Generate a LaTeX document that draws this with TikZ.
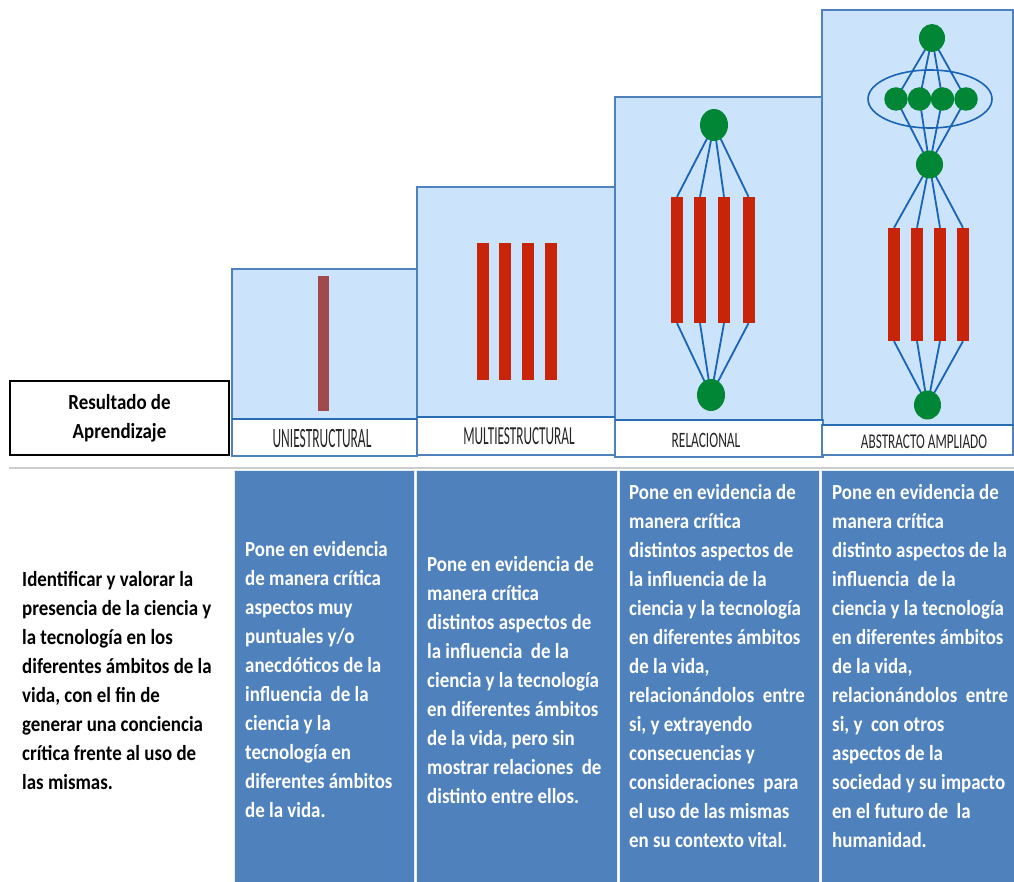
\documentclass[tikz,border=0pt]{standalone}
\usepackage{fontspec}
\setmainfont{Carlito}
\newfontfamily\bodyfont[FakeStretch=0.88]{Carlito}
\newfontfamily\labUni[FakeStretch=0.48]{Carlito}
\newfontfamily\labMulti[FakeStretch=0.51]{Carlito}
\newfontfamily\labRel[FakeStretch=0.61]{Carlito}
\newfontfamily\labAbs[FakeStretch=0.63]{Carlito}
\usetikzlibrary{shapes.geometric}
\definecolor{hdrfill}{RGB}{204,228,251}
\definecolor{hdrline}{RGB}{79,129,189}
\definecolor{sepline}{RGB}{40,108,180}
\definecolor{cellfill}{RGB}{79,129,189}
\definecolor{barred}{RGB}{200,36,10}
\definecolor{barmaroon}{RGB}{160,74,78}
\definecolor{nodegreen}{RGB}{0,134,52}
\definecolor{linkblue}{RGB}{25,100,182}
\pgfdeclarelayer{bg}\pgfdeclarelayer{links}\pgfsetlayers{bg,links,main}
\begin{document}
\begin{tikzpicture}[x=1pt,y=-1pt,
  panel/.style={fill=hdrfill, draw=hdrline, line width=1.3pt},
  labelbox/.style={fill=white, draw=hdrline, line width=1.3pt},
  sepblue/.style={draw=sepline, line width=2.2pt},
  labeltext/.style={inner sep=0pt, text=black!85},
  redbar/.style={rectangle, fill=barred, inner sep=0pt, minimum width=12pt},
  dot/.style={ellipse, fill=nodegreen, inner sep=0pt},
  link/.style={draw=linkblue, line width=1.8pt},
  cell/.style={fill=cellfill, draw=white!85!cellfill, line width=1pt},
  bodytext/.style={anchor=north west, align=left, inner sep=0pt, text=white, font=\bodyfont\fontsize{21.5}{29}\selectfont\bfseries},
]
\useasboundingbox (0,0) rectangle (1014,882);

% ---------- header panels ----------
\begin{pgfonlayer}{bg}
\fill[white] (0,0) rectangle (1014,882);
\draw[panel] (232,269) rectangle (417,419);
\draw[panel] (417,187) rectangle (615,417);
\draw[panel] (615,97) rectangle (823,420);
\draw[panel] (822,10) rectangle (1013,425);
\draw[labelbox] (232,419) rectangle (417,456);
\draw[labelbox] (417,417) rectangle (615,455);
\draw[labelbox] (615,420) rectangle (823,457);
\draw[labelbox] (822,425) rectangle (1013,455);
\draw[sepblue] (232,419) -- (417,419);
\draw[sepblue] (417,417) -- (615,417);
\draw[sepblue] (615,420) -- (823,420);
\draw[sepblue] (822,425) -- (1014,425);
% grey rule
\draw[black!20, line width=1.2pt] (9,468) -- (1014,468);
% bottom cells
\draw[cell] (234,470) rectangle (414,883);
\draw[cell] (416,470) rectangle (617,883);
\draw[cell] (619,470) rectangle (819,883);
\draw[cell] (821,470) rectangle (1015,883);
\end{pgfonlayer}

% ---------- labels ----------
\node[draw=black, line width=1.3pt, minimum width=219pt, minimum height=74pt, inner sep=0pt,
      align=center, font=\bodyfont\fontsize{21.5}{29}\selectfont\bfseries] (res) at (119.5,418) {Resultado de\\Aprendizaje};
\node[labeltext, font=\labUni\fontsize{28}{28}\selectfont] (luni) at (322,439) {UNIESTRUCTURAL};
\node[labeltext, font=\labMulti\fontsize{26}{26}\selectfont] (lmulti) at (519,436.5) {MULTIESTRUCTURAL};
\node[labeltext, font=\labRel\fontsize{22}{22}\selectfont] (lrel) at (706,440) {RELACIONAL};
\node[labeltext, font=\labAbs\fontsize{21}{21}\selectfont] (labs) at (924,441.5) {ABSTRACTO AMPLIADO};

% ---------- uniestructural ----------
\node[rectangle, fill=barmaroon, inner sep=0pt, minimum width=11pt, minimum height=135pt] (u1) at (323.5,343.5) {};

% ---------- multiestructural ----------
\foreach \i/\x in {1/482.5,2/505,3/527.5,4/550.5}
  \node[redbar, minimum height=137pt] (m\i) at (\x,311.5) {};

% ---------- relacional ----------
\node[dot, minimum width=28pt, minimum height=32pt] (rtop) at (714,125) {};
\node[dot, minimum width=28pt, minimum height=32pt] (rbot) at (711,395) {};
\foreach \i/\x in {1/677,2/700,3/724,4/748.5}
  \node[redbar, minimum height=126pt] (r\i) at (\x,260) {};
\begin{pgfonlayer}{links}
\foreach \i in {1,...,4} {
  \draw[link] (rtop.center) -- (r\i.north);
  \draw[link] (r\i.south) -- (rbot.center);
}
\end{pgfonlayer}

% ---------- abstracto ampliado ----------
\node[dot, minimum width=26pt, minimum height=28pt] (atop) at (932,38) {};
\node[ellipse, draw=linkblue, line width=1.6pt, minimum width=124pt, minimum height=58pt, inner sep=0pt] (aring) at (930,99) {};
\foreach \i/\x in {1/896,2/919.5,3/942.5,4/966}
  \node[dot, minimum width=23.5pt, minimum height=23.5pt] (s\i) at (\x,99) {};
\node[dot, minimum width=27pt, minimum height=28pt] (amid) at (929.5,164.5) {};
\foreach \i/\x in {1/894,2/917,3/940,4/963}
  \node[redbar, minimum height=113pt] (a\i) at (\x,284.5) {};
\node[dot, minimum width=27pt, minimum height=29pt] (abot) at (927.5,405) {};
\begin{pgfonlayer}{links}
\foreach \i in {1,...,4} {
  \draw[link] (atop.center) -- (s\i.center);
  \draw[link] (s\i.center) -- (amid.center);
  \draw[link] (amid.center) -- (a\i.north);
  \draw[link] (a\i.south) -- (abot.center);
}
\end{pgfonlayer}

% ---------- texts ----------
\node[bodytext, text=black] (goal) at (22,571) {Identificar y valorar la\\presencia de la ciencia y\\la tecnología en los\\diferentes ámbitos de la\\vida, con el fin de\\generar una conciencia\\crítica frente al uso de\\las mismas.};
\node[bodytext] (t1) at (245,541) {Pone en evidencia\\de manera crítica\\aspectos muy\\puntuales y/o\\anecdóticos de la\\influencia\ \ de la\\ciencia y la\\tecnología en\\diferentes ámbitos\\de la vida.};
\node[bodytext] (t2) at (427,556) {Pone en evidencia de\\manera crítica\\distintos aspectos de\\la influencia\ \ de la\\ciencia y la tecnología\\en diferentes ámbitos\\de la vida, pero sin\\mostrar relaciones\ \ de\\distinto entre ellos.};
\node[bodytext] (t3) at (629,484) {Pone en evidencia de\\manera crítica\\distintos aspectos de\\la influencia de la\\ciencia y la tecnología\\en diferentes ámbitos\\de la vida,\\relacionándolos\ \ entre\\si, y extrayendo\\consecuencias y\\consideraciones\ \ para\\el uso de las mismas\\en su contexto vital.};
\node[bodytext] (t4) at (832,484) {Pone en evidencia de\\manera crítica\\distinto aspectos de la\\influencia\ \ de la\\ciencia y la tecnología\\en diferentes ámbitos\\de la vida,\\relacionándolos\ \ entre\\si, y\ \ con otros\\aspectos de la\\sociedad y su impacto\\en el futuro de\ \ la\\humanidad.};
\end{tikzpicture}
\end{document}
